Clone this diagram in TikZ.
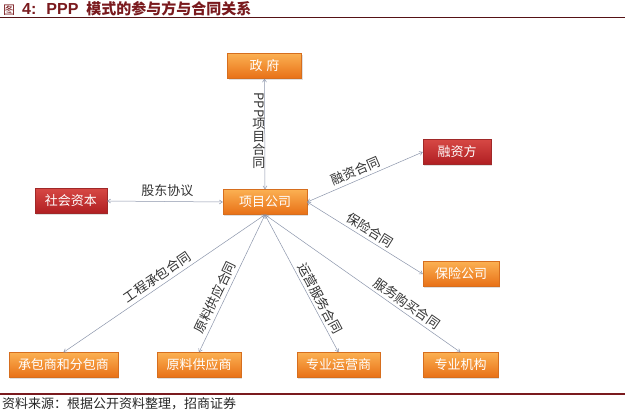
\documentclass[tikz,border=0pt]{standalone}
\usepackage{fontspec}
\setmainfont{Noto Sans CJK SC}
\newfontfamily\latinfont{Liberation Sans}
\usepackage{tikz}
\usetikzlibrary{arrows.meta,shadows}
\usepackage{xcolor}
\definecolor{orangetop}{RGB}{251,176,82}
\definecolor{orangebot}{RGB}{232,112,22}
\definecolor{orangeedge}{RGB}{214,110,30}
\definecolor{redtop}{RGB}{214,72,68}
\definecolor{redbot}{RGB}{176,30,34}
\definecolor{rededge}{RGB}{160,40,40}
\definecolor{linkgray}{RGB}{140,150,172}
\definecolor{labelgray}{RGB}{50,50,50}
\definecolor{titlered}{RGB}{122,26,30}

\tikzset{
  partybox/.style={line width=0.4pt, text=white, minimum height=25pt,
    inner sep=0pt, font=\fontsize{13}{13}\selectfont,
    drop shadow={shadow xshift=1.2pt, shadow yshift=-1.2pt, opacity=0.25}},
  orangebox/.style={partybox, draw=orangeedge, top color=orangetop, bottom color=orangebot},
  redbox/.style={partybox, draw=rededge, top color=redtop, bottom color=redbot},
  link/.style={{Straight Barb[length=3pt,width=4pt]}-{Straight Barb[length=3pt,width=4pt]},
    draw=linkgray, line width=0.5pt},
  lbl/.style={text=labelgray, inner sep=3pt, font=\fontsize{13}{13}\selectfont}
}

\begin{document}
\begin{tikzpicture}[x=1pt, y=-1pt]
    \useasboundingbox[fill=white] (0,0) rectangle (625,413);

    % title and rules
    \node[anchor=west, text=titlered, inner sep=0pt] (title) at (3,9)
        {\fontsize{12}{12}\selectfont 图\hspace{7pt}\bfseries\fontsize{16}{16}\selectfont
         {\latinfont 4:}\hspace{10pt}{\latinfont PPP}\hspace{8pt}\fontsize{15}{15}\selectfont
         模式的参与方与合同关系};
    \draw[titlered!70!black, line width=1.2pt] (0,17.5) -- (625,17.5);
    \draw[titlered, line width=1.2pt] (0,394) -- (625,394);
    \node[anchor=west, inner sep=0pt, text=black!85, font=\fontsize{13}{13}\selectfont]
        (source) at (2,404) {资料来源：根据公开资料整理，招商证券};

    % parties
    \node[orangebox, minimum width=74pt] (gov) at (264.5,66) {政\hspace{4pt}府};
    \node[orangebox, minimum width=84pt] (proj) at (265,202) {项目公司};
    \node[redbox, minimum width=72pt] (social) at (71,201) {社会资本};
    \node[redbox, minimum width=68pt] (fin) at (457,152) {融资方};
    \node[orangebox, minimum width=76pt] (ins) at (461,274) {保险公司};
    \node[orangebox, minimum width=109pt] (contr) at (63.5,365) {承包商和分包商};
    \node[orangebox, minimum width=84pt] (supp) at (199,365) {原料供应商};
    \node[orangebox, minimum width=83pt] (oper) at (338.5,365) {专业运营商};
    \node[orangebox, minimum width=75pt] (inst) at (460.5,365) {专业机构};

    % contracts
    \draw[link] (gov.south) -- (proj.north)
        node[lbl, pos=0.47, left=-1pt, align=center, inner sep=0pt] (pppl)
        {\rotatebox[origin=c]{-90}{PPP}\\项\\目\\合\\同};
    \draw[link] (social.east) -- (proj.west)
        node[lbl, pos=0.52, above=2pt] (sharel) {股东协议};
    \draw[link] (proj.east) -- (fin.west)
        node[lbl, pos=0.45, sloped, above] (finl) {融资合同};
    \draw[link] (proj.east) -- (ins.west)
        node[lbl, pos=0.5, sloped, above] (insl) {保险合同};
    \draw[link] (proj.south) -- (contr.north)
        node[lbl, pos=0.51, sloped, above] (contrl) {工程承包合同};
    \draw[link] (proj.south) -- (supp.north)
        node[lbl, pos=0.63, sloped, above] (suppl) {原料供应合同};
    \draw[link] (proj.south) -- (oper.north)
        node[lbl, pos=0.64, sloped, above] (operl) {运营服务合同};
    \draw[link] (proj.south) -- (inst.north)
        node[lbl, pos=0.7, sloped, above] (instl) {服务购买合同};
\end{tikzpicture}
\end{document}
